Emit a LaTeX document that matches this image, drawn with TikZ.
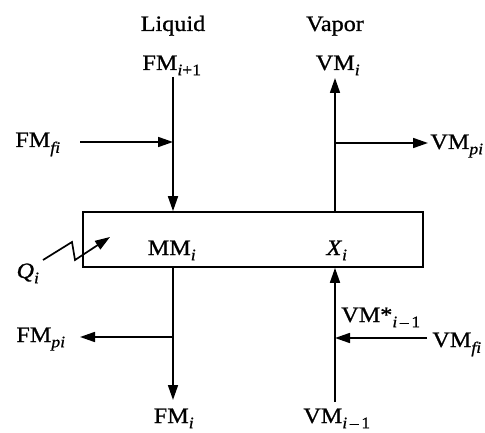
\documentclass[tikz,border=0pt]{standalone}
\usepackage{fontspec}
\setmainfont{Liberation Serif}[FakeStretch=1.1,FakeBold=0.9]
\usetikzlibrary{arrows.meta}
\newcommand{\lsub}[1]{\raisebox{-0.08em}{\textsubscript{\fontsize{16}{18}\selectfont #1}}}
\begin{document}
\begin{tikzpicture}[x=1pt,y=-1pt,
  lbl/.style={inner sep=0pt,anchor=base,font=\fontsize{22}{26}\selectfont},
  arr/.style={line width=1.7pt,-{Triangle[length=15pt,width=10pt]}},
  ln/.style={line width=1.7pt}]
\useasboundingbox (0,0) rectangle (485,433);
% box
\node[draw,line width=1.7pt,minimum width=340pt,minimum height=55pt,inner sep=0pt] (box) at (253,239.5) {};
% labels
\node[lbl] (liq) at (173,31) {Liquid};
\node[lbl] (vap) at (335,31) {Vapor};
\node[lbl] (fmip1) at (172,70) {FM\lsub{\textit{i}+1}};
\node[lbl] (vmi) at (338,70) {VM\lsub{\textit{i}}};
\node[lbl] (fmfi) at (38,147) {FM\lsub{\textit{fi}}};
\node[lbl] (vmpi) at (457,149) {VM\lsub{\textit{pi}}};
\node[lbl] (mmi) at (172,255) {MM\lsub{\textit{i}}};
\node[lbl] (xi) at (337,255) {\textit{X}\lsub{\textit{i}}};
\node[lbl] (qi) at (28,278) {\textit{Q}\lsub{\textit{i}}};
\node[lbl] (fmpi) at (41,342) {FM\lsub{\textit{pi}}};
\node[lbl] (vmstar) at (381,322) {VM*\lsub{\textit{i}\,--\,1}};
\node[lbl] (vmfi) at (457,347) {VM\lsub{\textit{fi}}};
\node[lbl] (fmi) at (174,423) {FM\lsub{\textit{i}}};
\node[lbl] (vmim1) at (337,423) {VM\lsub{\textit{i}\,--\,1}};
% coordinates
\coordinate (ltop) at (173,77);
\coordinate (lbot) at (173,400);
\coordinate (vtop) at (335,78);
\coordinate (vbot) at (335,402);
\coordinate (fmfiS) at (80,142);
\coordinate (vmpiE) at (428,143);
\coordinate (fmpiE) at (80,337);
\coordinate (vmfiS) at (427,338);
\coordinate (q0) at (43,260);
\coordinate (q1) at (72,242);
\coordinate (q2) at (75,260);
\coordinate (q3) at (110,237);
% liquid
\draw[arr] (ltop) -- (ltop |- box.north);
\draw[arr] (fmfiS) -- (fmfiS -| ltop);
\draw[arr] (lbot |- box.south) -- (lbot);
\draw[arr] (fmpiE -| lbot) -- (fmpiE);
% vapor
\draw[arr] (vtop |- box.north) -- (vtop);
\draw[arr] (vmpiE -| vtop) -- (vmpiE);
\draw[arr] (vbot) -- (vbot |- box.south);
\draw[arr] (vmfiS) -- (vmfiS -| vbot);
% heat
\draw[arr,line join=miter] (q0) -- (q1) -- (q2) -- (q3);
\end{tikzpicture}
\end{document}
